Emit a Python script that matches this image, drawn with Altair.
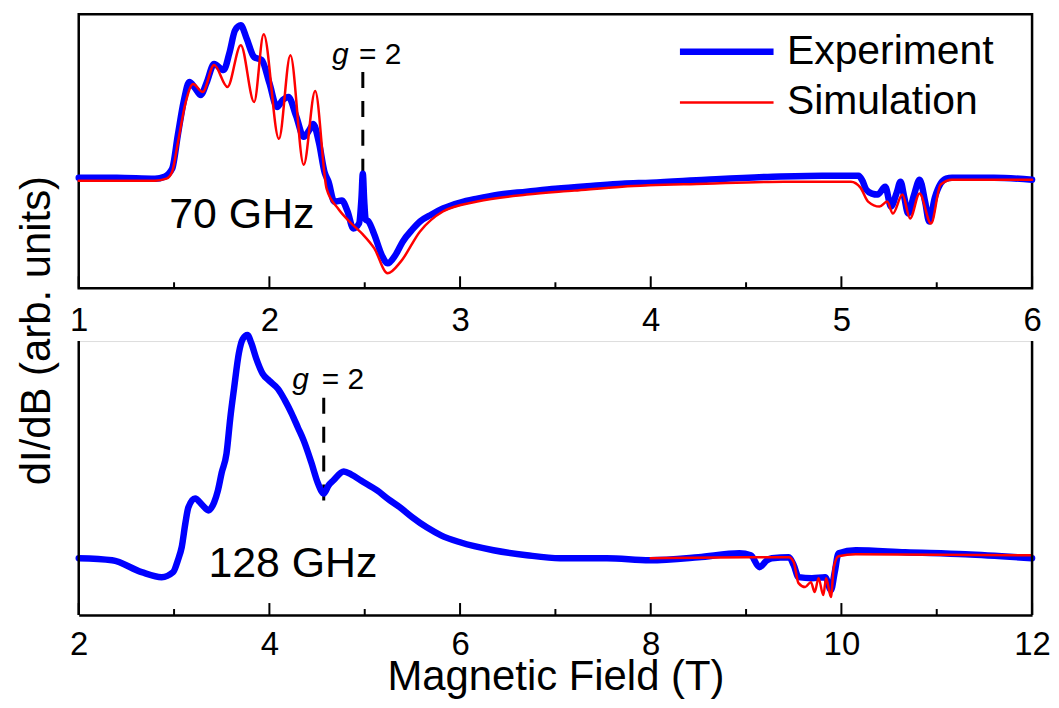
import altair as alt
import pandas as pd

FONT = "Liberation Sans"
BLUE = "#0000FF"
RED = "#FF0000"
SERIES = ["Experiment", "Simulation"]

# ---------------- 70 GHz panel ----------------
top_exp_B = [1.00, 1.20, 1.40, 1.45, 1.49, 1.52, 1.55, 1.58, 1.61, 1.64, 1.67, 1.71, 1.76, 1.79,
             1.82, 1.85, 1.88, 1.92, 1.96, 2.00, 2.04, 2.07, 2.10, 2.14, 2.18, 2.21, 2.23, 2.26,
             2.29, 2.31, 2.34, 2.38, 2.41, 2.44, 2.47, 2.483, 2.49, 2.497, 2.505, 2.52, 2.55,
             2.59, 2.62, 2.66, 2.70, 2.75, 2.79, 2.85, 2.91, 3.00, 3.09, 3.20, 3.35, 3.50, 3.70,
             3.85, 4.00, 4.29, 4.64, 4.90, 5.09, 5.11, 5.13, 5.16, 5.19, 5.23, 5.26, 5.29, 5.31,
             5.33, 5.35, 5.38, 5.41, 5.44, 5.46, 5.49, 5.52, 5.55, 5.58, 5.80, 6.00]
top_exp_I = [0, 0, -1, 1, 9, 43, 76, 96, 90, 83, 95, 114, 108, 125,
             148, 153, 140, 121, 118, 95, 71, 78, 81, 62, 41, 48, 54, 35,
             5, -4, -24, -23, -34, -51, -46, -20, 4, -22, -42, -44, -57,
             -78, -86, -78, -64, -52, -44, -37, -31, -25, -21, -17, -14, -11, -8,
             -6, -5, -2, 1, 2, 2, -3, -12, -16, -17, -9, -29, -15, -4,
             -20, -36, -18, -2, -25, -44, -20, -6, -1, 0, 0, -2]

top_sim_B = [1.00, 1.40, 1.46, 1.49, 1.52, 1.56, 1.60, 1.65, 1.71, 1.78, 1.85, 1.92, 1.97, 2.05,
             2.11, 2.18, 2.24, 2.30, 2.36, 2.43, 2.49, 2.55, 2.62, 2.69, 2.79, 2.91, 3.09, 3.35,
             3.60, 3.85, 4.29, 4.70, 5.05, 5.10, 5.14, 5.20, 5.24, 5.27, 5.32, 5.36, 5.41, 5.47,
             5.52, 5.58, 6.00]
top_sim_I = [-3, -3, -1, 6, 35, 75, 94, 86, 113, 91, 133, 76, 144, 39,
             123, 13, 87, -11, -31, -46, -57, -71, -96, -84, -54, -34, -24, -17,
             -13, -9, -6, -4, -4, -10, -24, -29, -24, -36, -17, -41, -16, -46,
             -7, -2, -2]

# ---------------- 128 GHz panel ----------------
bot_exp_B = [2.00, 2.35, 2.66, 2.87, 2.99, 3.04, 3.08, 3.12, 3.15, 3.22, 3.30, 3.36, 3.42, 3.46,
             3.50, 3.55, 3.59, 3.63, 3.68, 3.72, 3.77, 3.81, 3.86, 3.93, 4.00, 4.09, 4.16, 4.23,
             4.30, 4.36, 4.44, 4.51, 4.57, 4.62, 4.67, 4.78, 4.86, 4.96, 5.13, 5.25, 5.37, 5.50,
             5.65, 5.80, 6.00, 6.35, 6.70, 7.05, 7.54, 7.99, 8.50, 8.93, 9.05, 9.14, 9.22, 9.27,
             9.45, 9.50, 9.55, 9.69, 9.83, 9.89, 9.93, 9.97, 10.15, 10.67, 11.30, 12.00]
bot_exp_I = [-1, -3, -15, -20, -15, -3, 10, 35, 50, 59, 52, 47, 55, 67,
             85, 104, 140, 170, 205, 219, 223, 215, 200, 184, 177, 169, 158, 145,
             130, 117, 95, 74, 64, 72, 77, 86, 83, 77, 67, 58, 50, 40,
             30, 22, 15, 7, 2, -1, -1, -3, 0, 4, 2, -10, -3, -1,
             0, -8, -20, -21, -20, -33, -15, 4, 7, 5, 3, -1]

bot_sim_B = [8.00, 9.00, 9.45, 9.50, 9.55, 9.62, 9.68, 9.72, 9.76, 9.81, 9.84, 9.89, 9.92, 9.97,
             10.15, 12.00]
bot_sim_I = [-1, 0, 0, -5, -26, -30, -25, -35, -21, -38, -21, -40, -10, 1, 3, 2]

# axes / annotations
top_xlim = [1, 6]
top_ylim = [-111, 164]
bot_xlim = [2, 12]
bot_ylim = [-58, 217]
top_major = [1, 2, 3, 4, 5, 6]
top_minor = [1.5, 2.5, 3.5, 4.5, 5.5]
bot_major = [2, 4, 6, 8, 10, 12]
bot_minor = [3, 5, 7, 9, 11]
top_g2 = {"B": 2.49, "y1": 106, "y2": 4}
bot_g2 = {"B": 4.57, "y1": 160, "y2": 45}

W, H = 957, 275


def series_df(bx, ix, bs, is_):
    return pd.DataFrame({
        "B": list(bx) + list(bs),
        "I": list(ix) + list(is_),
        "series": ["Experiment"] * len(bx) + ["Simulation"] * len(bs),
    })


leg = alt.Legend(
    title=None, orient="none", legendX=630, legendY=17,
    symbolType="M-4,0L4,0", symbolSize=552, labelFontSize=41, labelFont=FONT,
    labelOffset=40, rowPadding=9, padding=0, labelColor="black", labelLimit=500,
)


def panel(df, xlim, ylim, major, minor, g2, label_text, label_pos, g_pos, eq_pos,
          top=True):
    xs = alt.Scale(domain=xlim, nice=False, zero=False)
    ys = alt.Scale(domain=ylim, nice=False, zero=False)
    if top:
        xaxis = alt.Axis(values=major, ticks=False, domain=False, grid=False, labelFontSize=33,
                         labelPadding=16, labelFont=FONT, title=None, format="d",
                         labelColor="black", labelFlush=False)
        yaxis = alt.Axis(title="dI/dB (arb. units)", labels=False, ticks=False, domain=False,
                         grid=False, titleX=-29, titleY=317, titleAngle=270,
                         titleAlign="center", titleBaseline="alphabetic", titleFontSize=42,
                         titleFont=FONT, titleFontWeight="normal", titleColor="black")
    else:
        xaxis = alt.Axis(values=major, ticks=False, domain=True, domainColor="black",
                         domainWidth=2.5, grid=False, labelFontSize=33, labelPadding=14,
                         labelFont=FONT, title="Magnetic Field (T)", titleFontSize=42,
                         titleFont=FONT, titleFontWeight="normal", titleColor="black",
                         titleY=75, titleBaseline="alphabetic", format="d",
                         labelColor="black", labelFlush=False)
        yaxis = alt.Axis(title=None, labels=False, ticks=False, domain=False, grid=False)

    def X(f):
        return alt.X(f, scale=xs, axis=xaxis)

    def Y(f):
        return alt.Y(f, scale=ys, axis=yaxis)

    dash = alt.Chart(pd.DataFrame([g2])).mark_rule(
        color="black", strokeWidth=3, strokeDash=[16, 13]
    ).encode(x=X("B:Q"), y=Y("y1:Q"), y2="y2:Q")

    lines = alt.Chart(df).mark_line(
        interpolate="monotone", strokeCap="round", strokeJoin="round"
    ).encode(
        x=X("B:Q"),
        y=Y("I:Q"),
        color=alt.Color("series:N", scale=alt.Scale(domain=SERIES, range=[BLUE, RED]),
                        legend=leg if top else None),
        strokeWidth=alt.StrokeWidth("series:N",
                                    scale=alt.Scale(type="ordinal", domain=SERIES,
                                                    range=[6.5, 2.5]),
                                    legend=leg if top else None),
    )

    majors = alt.Chart(pd.DataFrame({"B": major})).mark_rule(
        color="black", strokeWidth=2
    ).encode(x=X("B:Q"), y=alt.value(H - 12), y2=alt.value(H))
    minors = alt.Chart(pd.DataFrame({"B": minor})).mark_rule(
        color="black", strokeWidth=2
    ).encode(x=X("B:Q"), y=alt.value(H - 6), y2=alt.value(H))

    lab = alt.Chart(pd.DataFrame([{"B": label_pos[0], "I": label_pos[1], "t": label_text}])
                    ).mark_text(fontSize=43, font=FONT, align="left", baseline="alphabetic",
                                color="black").encode(x=X("B:Q"), y=Y("I:Q"), text="t:N")
    gl = alt.Chart(pd.DataFrame([{"B": g_pos[0], "I": g_pos[1], "t": "g"}])
                   ).mark_text(fontSize=30, font=FONT, fontStyle="italic", align="right",
                               baseline="alphabetic", color="black"
                               ).encode(x=X("B:Q"), y=Y("I:Q"), text="t:N")
    eq = alt.Chart(pd.DataFrame([{"B": eq_pos[0], "I": eq_pos[1], "t": "= 2"}])
                   ).mark_text(fontSize=30, font=FONT, align="left",
                               baseline="alphabetic", color="black"
                               ).encode(x=X("B:Q"), y=Y("I:Q"), text="t:N")

    layers = [dash, lines, majors, minors, lab, gl, eq]
    if not top:
        frame = alt.Chart(pd.DataFrame({"B": xlim, "y1": [ylim[0]] * 2, "y2": [ylim[1]] * 2})
                          ).mark_rule(color="black", strokeWidth=2.5
                                      ).encode(x=X("B:Q"), y=Y("y1:Q"), y2="y2:Q")
        layers.append(frame)
    ch = alt.layer(*layers).properties(width=W, height=H)
    if top:
        ch = ch.properties(view=alt.ViewBackground(stroke="black", strokeWidth=2.5))
    return ch


top_chart = panel(series_df(top_exp_B, top_exp_I, top_sim_B, top_sim_I), top_xlim, top_ylim,
                  top_major, top_minor, top_g2, "70 GHz", (1.475, -51), (2.416, 114),
                  (2.47, 114), top=True)
bot_chart = panel(series_df(bot_exp_B, bot_exp_I, bot_sim_B, bot_sim_I), bot_xlim, bot_ylim,
                  bot_major, bot_minor, bot_g2, "128 GHz", (3.36, -20), (4.414, 169),
                  (4.55, 169), top=False)

chart = alt.vconcat(top_chart, bot_chart, spacing=53, bounds="flush").resolve_scale(
    color="independent", strokeWidth="independent"
).configure_view(stroke=None).configure(font=FONT).properties(
    padding={"left": 6, "top": 3, "right": 0, "bottom": 0}
)

chart.save("out.html", embed_options={"renderer": "svg", "actions": False})
